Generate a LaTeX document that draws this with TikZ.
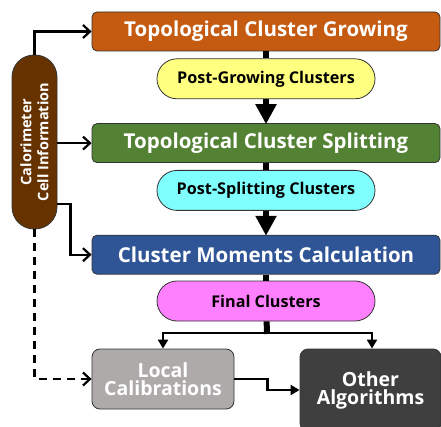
\documentclass[tikz,border=0pt]{standalone}
\usepackage{fontspec}
\setmainfont{Open Sans}
\usetikzlibrary{positioning,arrows.meta}

\definecolor{growcol}{HTML}{C55A11}
\definecolor{splitcol}{HTML}{548235}
\definecolor{momentcol}{HTML}{2F5597}
\definecolor{postgrow}{HTML}{FFFF80}
\definecolor{postsplit}{HTML}{80FFFF}
\definecolor{finalcol}{HTML}{FF80FF}
\definecolor{calocol}{HTML}{663300}
\definecolor{localcol}{HTML}{AEAAAA}
\definecolor{othercol}{HTML}{3F3F3F}

\begin{document}
\begin{tikzpicture}[
		x=1pt, y=1pt
		,stage/.style={draw=black!80, line width=.8pt, rounded corners=5pt, minimum width=348pt, minimum height=39pt, text=white, font=\fontsize{20.5}{24}\selectfont\bfseries}
		,clusters/.style={draw=black!80, line width=.8pt, rounded corners=20pt, minimum width=218pt, minimum height=40pt, font=\fontsize{16.2}{19}\selectfont\bfseries}
		,final/.style={draw=black!80, line width=.8pt, rounded corners=8pt, text=white, align=center, font=\fontsize{19.5}{22}\selectfont\bfseries}
		,link/.style={line width=2.2pt, -{Straight Barb[length=7pt,width=13pt]}}
		,feed/.style={line width=2.2pt, -{Triangle[length=9pt,width=10pt]}}
		,bus/.style={line width=6pt}
		,flow/.style={line width=6pt, -{Triangle[length=20pt,width=20pt]}, shorten >=-1pt}
	]
		\useasboundingbox (0,0) rectangle (441,-427);

		\node[stage, fill=growcol] (grow) at (266,-31.5) {Topological Cluster Growing};
		\node[clusters, fill=postgrow, below=7pt of grow] (pgrow) {Post-Growing Clusters};
		\node[stage, fill=splitcol, below=24pt of pgrow] (split) {Topological Cluster Splitting};
		\node[clusters, fill=postsplit, below=7pt of split] (psplit) {Post-Splitting Clusters};
		\node[stage, fill=momentcol, below=24pt of psplit] (moment) {Cluster Moments Calculation};
		\node[clusters, fill=finalcol, below=6pt of moment] (fin) {Final Clusters};

		\node[final, fill=localcol, minimum width=142pt, minimum height=60pt] (local) at (163,-379) {Local\\[-4pt]Calibrations};
		\node[final, fill=othercol, minimum width=141pt, minimum height=82pt] (other) at (370.5,-390) {Other\\[-4pt]Algorithms};

		\node[draw=black!80, line width=.8pt, fill=calocol, rounded corners=22pt, minimum width=45pt, minimum height=174pt] (calo) at (34.5,-142) {};
		\node[rotate=90, text=white, align=center, font=\fontsize{14.5}{17}\selectfont\bfseries] at (calo) {Calorimeter\\Cell Information};

		% main chain
		\draw[bus] (grow) -- (pgrow);
		\draw[flow] (pgrow) -- (split);
		\draw[bus] (split) -- (psplit);
		\draw[flow] (psplit) -- (moment);
		\draw[bus] (moment) -- (fin);

		% split to the two outputs
		\coordinate (fork) at (267,-333);
		\draw[bus] (fin) -- ([yshift=-1pt]fork);
		\draw[feed] (fork) -| (local);
		\draw[feed] (fork) -| ([xshift=1.5pt]other.north);
		\draw[feed] (local.east) -- ++(33,0) |- (other);

		% cell information feeds
		\draw[link] (calo.north) |- (grow);
		\draw[link] (calo.east |- split) -- (split);
		\draw[link] ([yshift=-62pt]calo.east) -- ++(13,0) |- (moment);
		\draw[link, dashed, dash pattern=on 8pt off 6pt] (calo.south) |- (local);
	\end{tikzpicture}
\end{document}
